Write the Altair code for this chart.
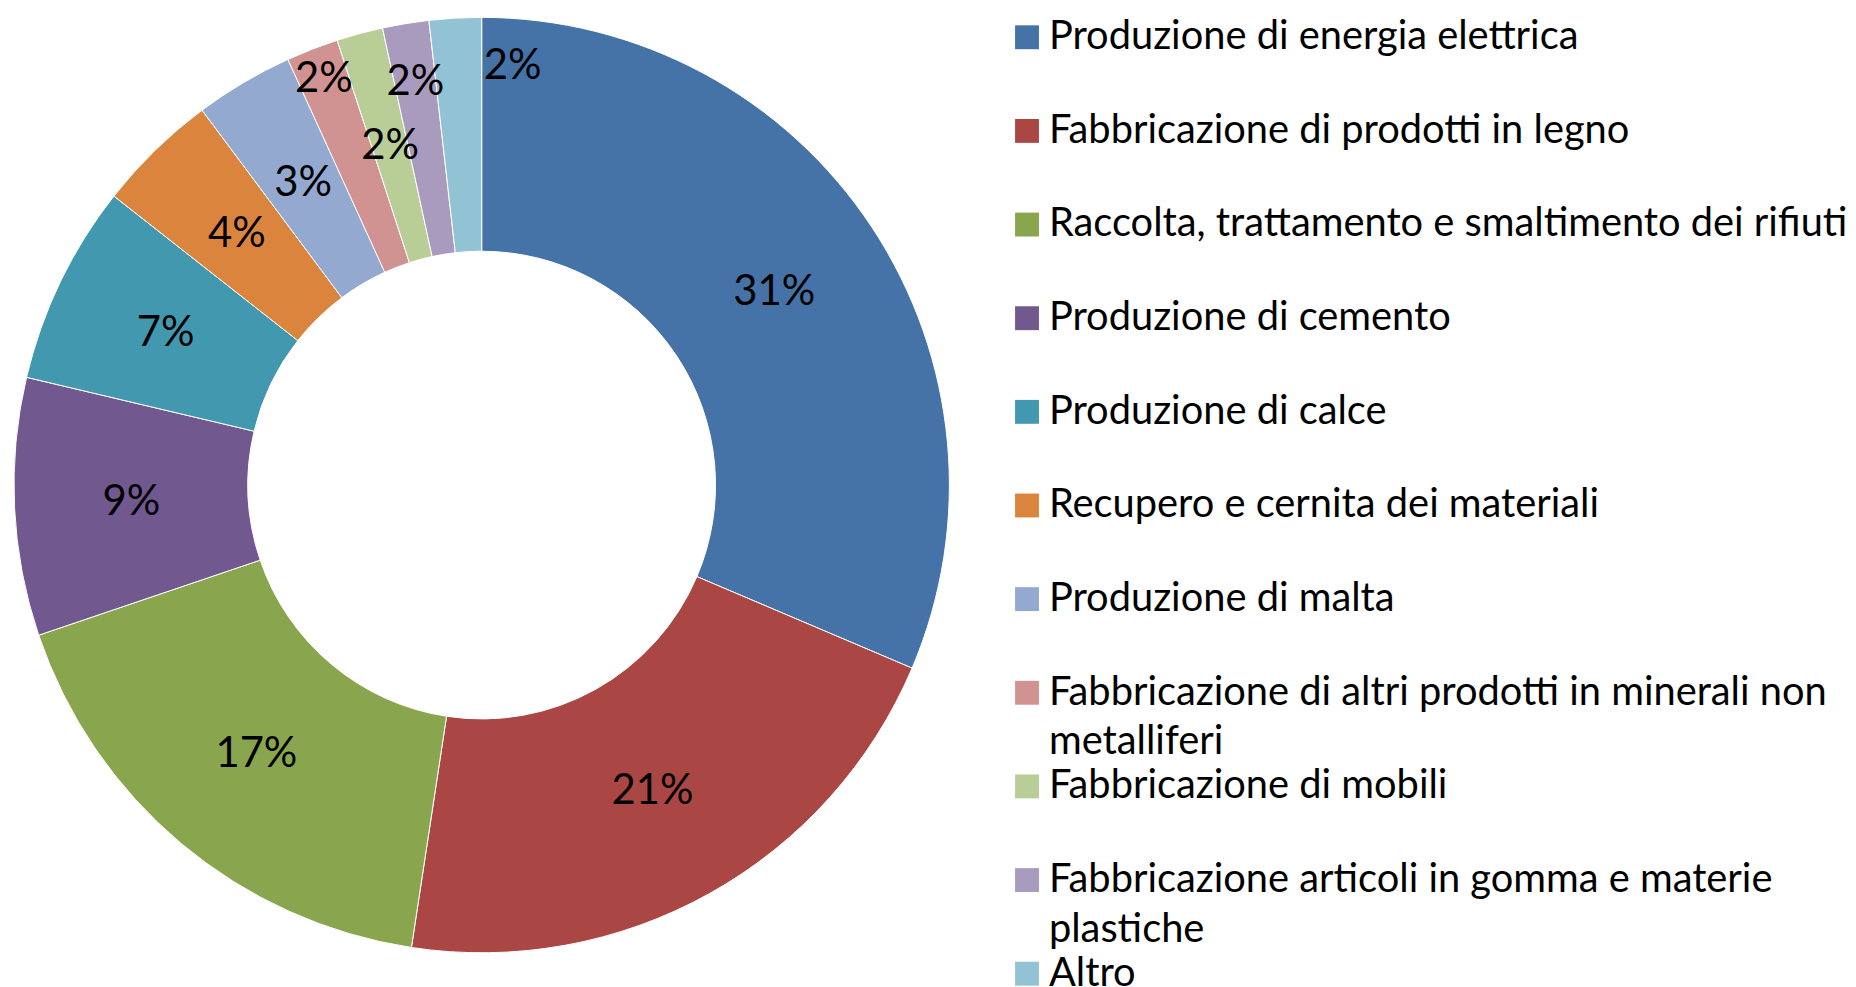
import textwrap
import altair as alt
import pandas as pd

# ---------------- data ----------------
categories = [
    "Produzione di energia elettrica",
    "Fabbricazione di prodotti in legno",
    "Raccolta, trattamento e smaltimento dei rifiuti",
    "Produzione di cemento",
    "Produzione di calce",
    "Recupero e cernita dei materiali",
    "Produzione di malta",
    "Fabbricazione di altri prodotti in minerali non metalliferi",
    "Fabbricazione di mobili",
    "Fabbricazione articoli in gomma e materie plastiche",
    "Altro",
]
values = [31.4, 21.0, 17.4, 8.9, 6.9, 4.2, 3.4, 1.8, 1.6, 1.6, 1.8]

# ---------------- style ----------------
colors = ["#4572A7", "#AA4643", "#89A54E", "#71588F", "#4198AF", "#DB843D",
          "#93A9CF", "#D19392", "#B9CD96", "#A99BBD", "#92C3D4"]
FONT = "Lato"
R_OUT, R_IN = 470, 235
R_MID = (R_OUT + R_IN) / 2
# data-label placement (Excel "best fit" staggering of the thin slices)
label_radius = [R_MID] * 7 + [438, R_MID, 410, 421]
label_anchor = ["mid"] * 10 + ["end"]
WRAP = 47

rows = []
cum = 0.0
for i, (c, v) in enumerate(zip(categories, values)):
    start = cum
    cum += v
    lines = textwrap.wrap(c, WRAP)
    rows.append(dict(
        idx=i, category=c, value=v, pct=f"{round(v)}%",
        label_pos=(start + cum) / 2 if label_anchor[i] == "mid" else cum,
        label_r=label_radius[i], anchor=label_anchor[i],
        line1=lines[0], line2=lines[1] if len(lines) > 1 else "",
    ))
df = pd.DataFrame(rows)
total = sum(values)

color = alt.Color("category:N", scale=alt.Scale(domain=categories, range=colors), legend=None)
theta_scale = alt.Scale(domain=[0, total])

base = alt.Chart(df)
arcs = base.mark_arc(innerRadius=R_IN, outerRadius=R_OUT, stroke="white", strokeWidth=1).encode(
    theta=alt.Theta("value:Q", stack=True, scale=theta_scale),
    color=color,
    order=alt.Order("idx:Q"),
)
labels_mid = base.transform_filter("datum.anchor == 'mid'").mark_text(
    font=FONT, fontSize=42, color="black", align="center", baseline="middle"
).encode(
    theta=alt.Theta("label_pos:Q", scale=theta_scale),
    radius=alt.Radius("label_r:Q", scale=None),
    text="pct:N",
)
labels_end = base.transform_filter("datum.anchor == 'end'").mark_text(
    font=FONT, fontSize=42, color="black", align="left", baseline="middle", dx=2
).encode(
    theta=alt.Theta("label_pos:Q", scale=theta_scale),
    radius=alt.Radius("label_r:Q", scale=None),
    text="pct:N",
)
donut = alt.layer(arcs, labels_mid, labels_end).properties(width=940, height=940)

# ---------------- legend panel ----------------
ys = alt.Y("category:N", sort=categories, axis=None,
           scale=alt.Scale(type="point", padding=0, range=[20, 961]))
leg = alt.Chart(df)
squares = leg.mark_square(size=576, opacity=1, filled=True).encode(
    x=alt.value(12), y=ys, color=color
)
text1 = leg.mark_text(font=FONT, fontSize=40, align="left", baseline="middle", color="black").encode(
    x=alt.value(34), y=ys, text="line1:N"
)
text2 = leg.transform_filter("datum.line2 != ''").mark_text(
    font=FONT, fontSize=40, align="left", baseline="middle", color="black", dy=50
).encode(x=alt.value(34), y=ys, text="line2:N")
legend_panel = alt.layer(squares, text1, text2).properties(width=820, height=940)

chart = alt.hconcat(donut, legend_panel, spacing=64).properties(
    padding={"left": 4, "top": 5, "right": 0, "bottom": 0}
).configure_view(strokeWidth=0)

chart.save("out.html", embed_options={"renderer": "svg", "actions": False})
